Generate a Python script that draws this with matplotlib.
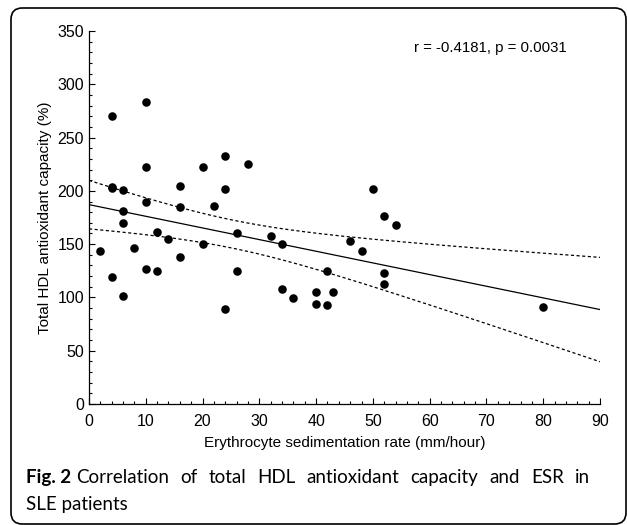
import numpy as np
import matplotlib
matplotlib.use("Agg")
import matplotlib.pyplot as plt
from matplotlib.patches import FancyBboxPatch
from matplotlib.ticker import MultipleLocator

# ESR (mm/hour) vs total HDL antioxidant capacity (%)
esr = [2, 4, 4, 4, 4, 6, 6, 6, 6, 8, 10, 10, 10, 10, 12, 12, 14, 16, 16, 16,
       20, 20, 22, 24, 24, 24, 26, 26, 28, 32, 34, 34, 36, 40, 40, 42, 42, 43,
       46, 48, 50, 52, 52, 52, 54, 80]
hdl_cap = [144, 270, 204, 203, 119, 201, 181, 170, 101, 146, 283, 222, 190, 127,
           161, 125, 155, 205, 185, 138, 222, 150, 186, 233, 202, 89, 160, 125,
           225, 158, 150, 108, 99, 105, 94, 125, 93, 105, 153, 144, 202, 176,
           123, 113, 168, 91]
stats_text = "r = -0.4181, p = 0.0031"
caption_label = "Fig. 2"
caption_line1 = ["Correlation", "of", "total", "HDL", "antioxidant",
                 "capacity", "and", "ESR", "in"]
caption_line2 = "SLE patients"
t_crit = 2.015  # t(0.975, df=44)

x = np.array(esr, dtype=float)
y = np.array(hdl_cap, dtype=float)
n = len(x)

# --- linear fit + 95% confidence band ---
slope, intercept = np.polyfit(x, y, 1)
xs = np.linspace(0, 90, 200)
fit = intercept + slope * xs
resid = y - (intercept + slope * x)
s = np.sqrt(np.sum(resid ** 2) / (n - 2))
se = s * np.sqrt(1 / n + (xs - x.mean()) ** 2 / np.sum((x - x.mean()) ** 2))

plt.rcParams["font.family"] = ["Liberation Sans", "DejaVu Sans"]
W, H = 627, 525

fig = plt.figure(figsize=(W / 100, H / 100), dpi=100)
ax = fig.add_axes([89 / W, 1 - 404 / H, 511 / W, 373 / H])

ax.scatter(x, y, s=38, color="black", zorder=3, linewidths=0)
ax.plot(xs, fit, color="black", lw=0.9)
ax.plot(xs, fit + t_crit * se, color="black", lw=0.9, ls=(0, (2.5, 2)))
ax.plot(xs, fit - t_crit * se, color="black", lw=0.9, ls=(0, (2.5, 2)))

ax.set_xlim(0, 90)
ax.set_ylim(0, 350)
ax.xaxis.set_major_locator(MultipleLocator(10))
ax.xaxis.set_minor_locator(MultipleLocator(2))
ax.yaxis.set_major_locator(MultipleLocator(50))
ax.yaxis.set_minor_locator(MultipleLocator(10))
ax.tick_params(which="both", direction="in", width=0.8, labelsize=11.5, colors="black")
ax.tick_params(which="major", length=4)
ax.tick_params(which="minor", length=2)
ax.tick_params(axis="x", pad=7)
ax.spines["top"].set_visible(False)
ax.spines["right"].set_visible(False)
for sp in ("left", "bottom"):
    ax.spines[sp].set_linewidth(0.9)

ax.set_xlabel("Erythrocyte sedimentation rate (mm/hour)", fontsize=11, labelpad=5)
ax.set_ylabel("Total HDL antioxidant capacity (%)", fontsize=11, labelpad=4)
ax.text((490 - 89) / 511, (404 - 48) / 373, stats_text, transform=ax.transAxes,
        ha="center", va="center", fontsize=10.8)

# caption: bold label, then the first line justified up to x=590 px
cap_font = dict(fontsize=13.5, family=["Lato", "DejaVu Sans"], va="baseline")
renderer = fig.canvas.get_renderer()
line1_y = 1 - 483 / H
label = fig.text(26 / W, line1_y, caption_label, fontweight="bold", **cap_font)
x_left = 26 + label.get_window_extent(renderer).width + 5
words = [fig.text(0, line1_y, w, **cap_font) for w in caption_line1]
widths = [t.get_window_extent(renderer).width for t in words]
x_right = 590
gap = (x_right - x_left - sum(widths)) / (len(words) - 1)
pos = x_left
for t, wd in zip(words, widths):
    t.set_x(pos / W)
    pos += wd + gap
fig.text(26 / W, 1 - 510 / H, caption_line2, **cap_font)

# rounded frame around the figure
frame = FancyBboxPatch((11 / W, 1 - 524 / H), 615 / W, 516 / H,
                       boxstyle="round,pad=0.0,rounding_size=0.018",
                       transform=fig.transFigure, fill=False, ec="black", lw=1.2,
                       mutation_aspect=W / H)
fig.patches.append(frame)

fig.savefig("out.png", dpi=100)
plt.close(fig)
